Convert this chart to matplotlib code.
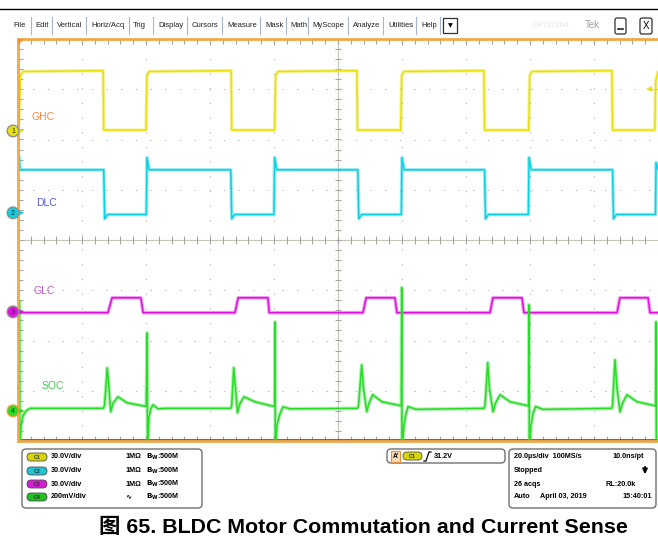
import matplotlib.pyplot as plt
import numpy as np
from matplotlib.patches import FancyBboxPatch, Circle, Polygon, Rectangle

plt.rcParams['font.family'] = ['Liberation Sans', 'DejaVu Sans', 'Noto Sans CJK SC']
plt.rcParams['mathtext.default'] = 'regular'

# scope trace data: time in us, amplitude in V (SOC in mV)
ghc_t = [0.3, 0.8, 1.6, 26.6, 26.8, 40.0, 40.3, 41.0, 66.6, 66.8, 80.2, 80.5, 81.2,
         105.9, 106.1, 119.6, 119.9, 120.6, 145.6, 145.8, 159.6, 159.9, 160.6,
         185.6, 185.8, 199.0, 199.3, 200.0]
ghc_v = [6, 33, 35.5, 36, 0.5, 0.5, 33, 35.5, 36, 0.5, 0.5, 33, 35.5,
         36, 0.5, 0.5, 33, 35.5, 36, 0.5, 0.5, 33, 35.5,
         36, 0.5, 0.5, 30, 35]

dlc_t = [0.4, 0.6, 1.5, 26.8, 27.1, 28.0, 40.1, 40.3, 41.0, 66.5, 66.8, 67.7,
         80.0, 80.2, 80.9, 106.2, 106.5, 107.4, 119.8, 120.0, 120.7, 145.8, 146.1, 147.0,
         159.5, 159.7, 160.4, 185.8, 186.1, 187.0, 199.2, 199.4, 200.0]
dlc_v = [33, 26, 25.7, 25.7, -3.5, -1, -1, 33, 25.7, 25.7, -3.5, -1,
         -1, 33, 25.7, 25.7, -3.5, -1, -1, 33, 25.7, 25.7, -3.5, -1,
         -1, 33, 25.7, 25.7, -3.5, -1, -1, 30, 26]

glc_t = [0.3, 28.1, 29.4, 38.4, 39.1, 67.8, 68.8, 78.1, 78.5, 107.8, 108.8,
         117.8, 118.4, 147.5, 148.4, 157.5, 158.1, 187.2, 188.1, 196.9, 197.5, 200.0]
glc_v = [-0.5, -0.5, 8.4, 8.4, -0.5, -0.5, 8.4, 8.4, -0.5, -0.5, 8.4,
         8.4, -0.5, -0.5, 8.4, 8.4, -0.5, -0.5, 8.4, 8.4, -0.5, -0.5]

soc_t = [0.47, 0.56, 0.94, 1.56, 2.5, 3.75,
         26.56, 27.03, 27.9, 28.44, 28.97, 29.69, 31.25, 34.06, 39.06, 40.06, 40.38, 40.47,
         40.94, 41.56, 42.19, 43.75, 45.94,
         66.41, 66.78, 67.41, 67.97, 68.59, 69.38, 70.63, 74.06, 79.06, 80.19, 80.31, 80.41,
         80.94, 81.88, 82.81, 85.0,
         106.09, 106.41, 107.41, 107.97, 108.97, 109.69, 110.84, 113.75, 118.34, 119.78, 119.91,
         120.0, 120.63, 121.25, 121.88, 124.38,
         145.63, 145.94, 146.78, 147.34, 148.44, 149.22, 150.63, 153.75, 158.13, 159.56, 159.69,
         159.78, 160.31, 160.94, 161.72, 164.06,
         185.47, 185.78, 186.56, 187.19, 188.13, 188.91, 190.31, 193.44, 197.81, 199.25, 199.38,
         199.5, 200.0]
soc_v = [434, -160, -60, -20, 0, 10,
         10, 20, 171, 90, -4, 30, 56, 32, 20, 18, 310, -160, -24, 10, 24, 8, 10,
         10, 20, 171, 90, -8, 30, 56, 36, 20, 18, 354, -160, -56, -12, 16, 8,
         10, 20, 183, 90, -3, 30, 64, 36, 24, 20, 490, -160, -56, -12, 17, 6,
         10, 20, 192, 90, -4, 30, 64, 36, 24, 20, 422, -160, -56, -12, 17, 6,
         10, 20, 203, 90, -4, 30, 64, 36, 24, 20, 354, -160, -160]

names = ['GHC', 'DLC', 'GLC', 'SOC']
volts_div = [30.0, 30.0, 30.0, 200.0]
offsets = [2.17, 0.54, -1.43, -3.40]   # ground position, divisions
colors = ['#e8e010', '#10d0e0', '#e010e0', '#28dc28']
label_colors = ['#f08848', '#5858e0', '#c058c8', '#40c848']
traces = [(ghc_t, ghc_v), (dlc_t, dlc_v), (glc_t, glc_v), (soc_t, soc_v)]
us_div = 20.0

W, H = 658, 553
fig = plt.figure(figsize=(W / 100, H / 100), dpi=100)

# graticule
ax = fig.add_axes([18 / W, 1 - 441 / H, 640 / W, 402 / H])
ax.set_xlim(0, 10)
ax.set_ylim(-4, 4)
ax.set_xticks([])
ax.set_yticks([])
for s in ['top', 'left', 'bottom']:
    ax.spines[s].set_color('#f0a848')
    ax.spines[s].set_linewidth(2.0)
ax.spines['right'].set_visible(False)

grid_c = '#b8b8b8'
for gx in range(1, 10):
    if gx != 5:
        ax.axvline(gx, color=grid_c, lw=0.8, ls=(0, (1.2, 12)))
for gy in range(-3, 4):
    if gy != 0:
        ax.axhline(gy, color=grid_c, lw=0.8, ls=(0, (1.2, 12)))
ax.axvline(5, color='#c8c4bc', lw=0.8)
ax.axhline(0, color='#c8c4bc', lw=0.8)

tick_c = '#a8a4a0'
xs = np.arange(0.2, 10, 0.2)
ys = np.arange(-3.8, 4, 0.2)
ax.vlines(xs, -0.07, 0.07, color=tick_c, lw=0.8)
ax.hlines(ys, 4.95, 5.05, color=tick_c, lw=0.8)
ax.vlines(xs, 3.9, 4, color=tick_c, lw=0.8)
ax.vlines(xs, -4, -3.9, color=tick_c, lw=0.8)
ax.hlines(ys, 0, 0.08, color=tick_c, lw=0.8)
ax.axhline(-3.99, color='#505050', lw=1.2)

for (t, v), sc, off, c in zip(traces, volts_div, offsets, colors):
    x = np.array(t) / us_div
    y = off + np.array(v) / sc
    ax.plot(x, y, color=c, lw=2.6, alpha=0.4)
    ax.plot(x, y, color=c, lw=1.1)

# everything else drawn in pixel coordinates
ov = fig.add_axes([0, 0, 1, 1], zorder=5)
ov.set_xlim(0, W)
ov.set_ylim(H, 0)
ov.axis('off')
ov.patch.set_alpha(0)

ov.plot([0, W], [9, 9], color='black', lw=1.0)
menu_items = ['File', 'Edit', 'Vertical', 'Horiz/Acq', 'Trig', 'Display', 'Cursors',
              'Measure', 'Mask', 'Math', 'MyScope', 'Analyze', 'Utilities', 'Help']
menu_x = [13, 35, 57, 91, 133, 158, 192, 227, 265, 290, 312, 353, 388, 421]
sep_x = [31, 52, 86, 129, 153, 187, 222, 260, 286, 308, 348, 383, 416, 440]
for item, mx in zip(menu_items, menu_x):
    ov.text(mx, 25.5, item, fontsize=5.5, ha='left', va='center', color='#202020')
for sx in sep_x:
    ov.plot([sx, sx], [17, 34], color='#a8b4d0', lw=0.8)
ov.add_patch(Rectangle((443, 18), 14, 15, fc='white', ec='#303030', lw=0.9))
ov.text(450, 25.5, '▼', fontsize=4.5, ha='center', va='center', family='DejaVu Sans')
ov.text(551, 25.5, 'DPO7104', fontsize=6, ha='center', va='center', color='#ece4e4')
ov.text(592, 25.5, 'Tek', fontsize=7, ha='center', va='center', color='#a0a0a0')
ov.add_patch(FancyBboxPatch((615, 18), 11, 16, boxstyle='round,pad=0,rounding_size=2',
                            fc='white', ec='#303030', lw=0.9))
ov.plot([618, 623], [29, 29], color='#202020', lw=1.2)
ov.add_patch(FancyBboxPatch((640, 18), 12, 16, boxstyle='round,pad=0,rounding_size=2',
                            fc='white', ec='#303030', lw=0.9))
ov.text(646, 26, 'X', fontsize=7, ha='center', va='center')

# trigger position / level markers
ov.add_patch(Polygon([(18, 39), (24, 39), (18, 45)], fc='#f09030', ec='none'))
ov.add_patch(Polygon([(646, 89), (652, 86), (652, 92)], fc=colors[0], ec='none'))
ov.plot([651, 657], [89, 89], color=colors[0], lw=1.0)

# channel ground markers and labels
label_pos = [(31, 117), (36, 203), (33, 291), (42, 386)]
for i, (off, c) in enumerate(zip(offsets, colors)):
    py = 240 - off * 50.25
    ec = '#f0a030' if i == 3 else '#909090'
    ov.add_patch(Polygon([(18, py - 3), (24, py), (18, py + 3)], fc=c, ec='none'))
    ov.add_patch(Circle((13, py), 5.8, fc=c, ec=ec, lw=1.0))
    ov.text(13, py + 0.3, str(i + 1), fontsize=5, ha='center', va='center', color='#202020')
    lx, ly = label_pos[i]
    ov.text(lx, ly, names[i], fontsize=7.5, ha='left', va='center', color=label_colors[i])

# settings readouts
box_kw = dict(boxstyle='round,pad=0,rounding_size=4', fc='white', ec='#707070', lw=1.0)
ov.add_patch(FancyBboxPatch((22, 449), 180, 59, **box_kw))
ov.add_patch(FancyBboxPatch((387, 449), 118, 14, **box_kw))
ov.add_patch(FancyBboxPatch((509, 449), 147, 59, **box_kw))

row_y = [457, 471, 484, 497]
ch_scale_txt = ['30.0V/div', '30.0V/div', '30.0V/div', '200mV/div']
ch_term_txt = ['1MΩ', '1MΩ', '1MΩ', '∿']
badge_c = ['#d8d400', '#20c4d4', '#d020d0', '#20c020']
for i, ry in enumerate(row_y):
    ov.add_patch(FancyBboxPatch((27, ry - 4), 20, 8, boxstyle='round,pad=0,rounding_size=4',
                                fc=badge_c[i], ec='#505050', lw=0.6))
    ov.text(37, ry + 0.3, 'C%d' % (i + 1), fontsize=3.8, ha='center', va='center',
            weight='bold', color='#303030')
    ov.text(51, ry, ch_scale_txt[i], fontsize=5.2, ha='left', va='center', weight='bold')
    ov.text(125, ry, ch_term_txt[i], fontsize=5.2, ha='left', va='center', weight='bold',
            family=['Liberation Sans', 'DejaVu Sans'])
    ov.text(146, ry, r'$\mathbf{B_W}$:500M', fontsize=5.2, ha='left', va='center',
            weight='bold')

ov.add_patch(Rectangle((391, 450.5), 9, 11, fc='#f8dcb8', ec='#e09040', lw=0.8))
ov.text(395.5, 456.3, "A'", fontsize=4.8, ha='center', va='center', weight='bold')
ov.add_patch(FancyBboxPatch((403, 452), 19, 8, boxstyle='round,pad=0,rounding_size=4',
                            fc=badge_c[0], ec='#505050', lw=0.6))
ov.text(412.5, 456.3, 'C1', fontsize=3.8, ha='center', va='center', weight='bold',
        color='#303030')
ov.plot([424, 426, 429, 431], [461, 461, 452, 452], color='black', lw=0.9)
ov.text(434, 456.3, '31.2V', fontsize=5.2, ha='left', va='center', weight='bold')

ov.text(514, row_y[0], '20.0µs/div  100MS/s', fontsize=5.2, ha='left', va='center',
        weight='bold')
ov.text(644, row_y[0], '10.0ns/pt', fontsize=5.2, ha='right', va='center', weight='bold')
ov.text(514, row_y[1], 'Stopped', fontsize=5.2, ha='left', va='center', weight='bold')
ov.annotate('', xy=(645, 477), xytext=(645, 464),
            arrowprops=dict(arrowstyle='-|>', color='black', lw=1.3, mutation_scale=7))
ov.text(514, row_y[2], '26 acqs', fontsize=5.2, ha='left', va='center', weight='bold')
ov.text(636, row_y[2], 'RL:20.0k', fontsize=5.2, ha='right', va='center', weight='bold')
ov.text(514, row_y[3], 'Auto', fontsize=5.2, ha='left', va='center', weight='bold')
ov.text(540, row_y[3], 'April 03, 2019', fontsize=5.2, ha='left', va='center', weight='bold')
ov.text(652, row_y[3], '15:40:01', fontsize=5.2, ha='right', va='center', weight='bold')

ov.text(363, 527, '图 65. BLDC Motor Commutation and Current Sense', fontsize=15.4,
        ha='center', va='center', weight='bold',
        family=['Liberation Sans', 'Noto Sans CJK SC'])

fig.savefig('out.png', dpi=100)
